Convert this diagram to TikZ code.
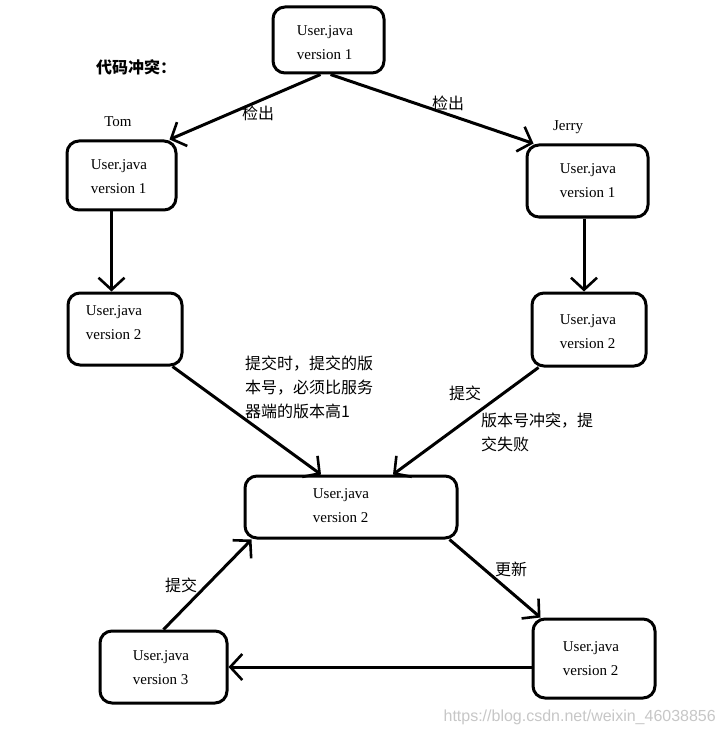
\documentclass[tikz,border=0pt]{standalone}
\usepackage{fontspec}
\setmainfont{Liberation Serif}
\newfontfamily\cjk{Noto Sans CJK SC}
\newfontfamily\wmfont{Liberation Sans}
\usetikzlibrary{arrows.meta}
\begin{document}
\begin{tikzpicture}[x=1pt,y=-1pt,
  rbox/.style={draw, line width=3pt, rounded corners=12pt, inner sep=0pt},
  boxtext/.style={align=left, inner sep=0pt, font=\fontsize{15}{24}\selectfont},
  arr/.style={line width=3pt, -{Straight Barb[length=12pt,width=26pt,line width=2.6pt]}},
  lbl/.style={inner sep=0pt, font=\cjk\fontsize{16}{24}\selectfont},
  person/.style={inner sep=0pt, font=\fontsize{15}{16}\selectfont}]
\useasboundingbox (0,0) rectangle (723,735);
\fill[white] (0,0) rectangle (723,735);

% boxes
\node[rbox, minimum width=111pt, minimum height=66pt] (A) at (328.5,40) {};
\node[rbox, minimum width=109pt, minimum height=69pt] (B) at (121.5,175.5) {};
\node[rbox, minimum width=114pt, minimum height=72pt] (C) at (125,329) {};
\node[rbox, minimum width=121pt, minimum height=72pt] (D) at (587.5,181) {};
\node[rbox, minimum width=114pt, minimum height=73pt] (E) at (589,329.5) {};
\node[rbox, minimum width=212pt, minimum height=62pt] (F) at (351,507) {};
\node[rbox, minimum width=122pt, minimum height=79pt] (G) at (594,658.5) {};
\node[rbox, minimum width=127pt, minimum height=72pt] (H) at (163.5,667) {};

% box texts
\node[boxtext] (tA) at (325,43) {User.java\\version 1};
\node[boxtext] (tB) at (119,177) {User.java\\version 1};
\node[boxtext] (tC) at (114,323) {User.java\\version 2};
\node[boxtext] (tD) at (588,181) {User.java\\version 1};
\node[boxtext] (tE) at (588,332) {User.java\\version 2};
\node[boxtext] (tF) at (341,506) {User.java\\version 2};
\node[boxtext] (tG) at (591,659) {User.java\\version 2};
\node[boxtext] (tH) at (161,668) {User.java\\version 3};

% connectors
\draw[arr] ([xshift=-8pt]A.south) -- ([xshift=-8pt]B.north east);
\draw[arr] ([xshift=2pt]A.south) -- ([xshift=8pt]D.north west);
\draw[arr] ([xshift=-10pt]B.south) -- ([xshift=-10pt]B.south |- C.north);
\draw[arr] ([xshift=-3.5pt]D.south) -- ([xshift=-3.5pt]D.south |- E.north);
\draw[arr] ([xshift=-11pt]C.south east) -- ([xshift=-30pt]F.north);
\draw[arr] ([xshift=8pt]E.south west) -- ([xshift=42pt]F.north);
\draw[arr] ([xshift=-9pt]F.south east) -- ([xshift=9pt]G.north west);
\draw[arr] (G.west |- H.east) -- (H.east);
\draw[arr] (H.north) -- ([xshift=8pt]F.south west);

% labels
\node[lbl, font=\cjk\bfseries\fontsize{16}{18}\selectfont, anchor=west] (title) at (96,67) {代码冲突：};
\node[person] (tom) at (118,122) {Tom};
\node[person] (jerry) at (568,127) {Jerry};
\node[lbl] (co1) at (258,113) {检出};
\node[lbl] (co2) at (448,103) {检出};
\node[lbl, align=left, anchor=west] (rule) at (245,387) {提交时，提交的版\\本号，必须比服务\\器端的版本高1};
\node[lbl] (sub1) at (465,393) {提交};
\node[lbl, align=left, anchor=west] (fail) at (481,432) {版本号冲突，提\\交失败};
\node[lbl] (upd) at (511,569) {更新};
\node[lbl] (sub2) at (181,585) {提交};
\node[inner sep=0pt, anchor=east, text=black!22, font=\wmfont\fontsize{16}{18}\selectfont] (wm) at (716,717) {https://blog.csdn.net/weixin\_46038856};
\end{tikzpicture}
\end{document}
